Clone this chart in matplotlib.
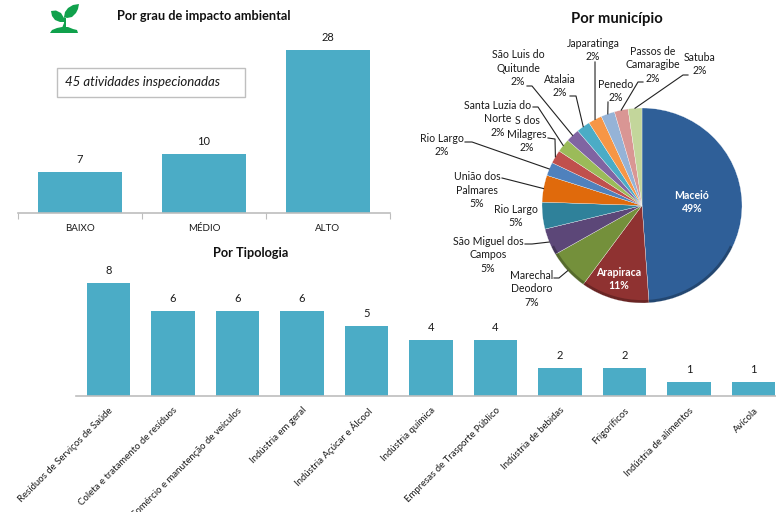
#!/usr/bin/env python3
import numpy as np
import matplotlib
matplotlib.use('Agg')
import matplotlib.pyplot as plt
from matplotlib.lines import Line2D
from matplotlib.patches import Polygon, Rectangle, Wedge

plt.rcParams['font.family'] = ['Lato', 'DejaVu Sans']

W, H = 776, 512

impacto_cat = ['BAIXO', 'MÉDIO', 'ALTO']
impacto_val = [7, 10, 28]

tipo_cat = ['Resíduos de Serviços de Saúde', 'Coleta e tratamento de resíduos',
            'Comércio e manutenção de veículos', 'Indústria em geral',
            'Indústria Açúcar e Álcool', 'Indústria química',
            'Empresas de Trasporte Público', 'Indústria de bebidas',
            'Frigoríficos', 'Indústria de alimentos', 'Avícola']
tipo_val = [8, 6, 6, 6, 5, 4, 4, 2, 2, 1, 1]

mun_cat = ['Maceió', 'Arapiraca', 'Marechal\nDeodoro', 'São Miguel dos\nCampos',
           'Rio Largo', 'União dos\nPalmares', 'Rio Largo', 'S dos\nMilagres',
           'Santa Luzia do\nNorte', 'São Luis do\nQuitunde', 'Atalaia',
           'Japaratinga', 'Penedo', 'Passos de\nCamaragibe', 'Satuba']
# as fatias sao as 45 atividades, os rotulos trazem o % como esta na figura
mun_val = [22, 5, 3, 2, 2, 2, 1, 1, 1, 1, 1, 1, 1, 1, 1]
mun_pct = [49, 11, 7, 5, 5, 5, 2, 2, 2, 2, 2, 2, 2, 2, 2]
mun_cor = ['#2f5f98', '#8f3231', '#74903b', '#5c4778', '#2f819a', '#e06a0c',
           '#4f81bd', '#c0504d', '#9bbb59', '#8064a2', '#4bacc6', '#f79646',
           '#95b3d7', '#d99694', '#c3d69b']

# centro de cada rotulo da pizza, em pixels
mun_pos = [(692, 202), (619, 279), (532, 289), (488, 255), (516, 216), (477, 190),
           (442, 145), (527, 134), (498, 119), (518, 68), (560, 86), (593, 50),
           (616, 91), (653, 65), (700, 64)]
# cotovelos das linhas de chamada, em pixels (None = sem linha)
mun_linha = [None, None,
             [(554, 278), (559, 278)],
             [(525, 244), (532, 244)],
             None,
             [(502, 178), (510, 180)],
             [(465, 142), (472, 142)],
             [(548, 138), (555, 139)],
             [(533, 107), (538, 107)],
             [(527, 86), (532, 86)],
             [(570, 96), (576, 96)],
             [(595, 62)],
             [(608, 102)],
             [(643, 82), (638, 82)],
             [(688, 75), (683, 75)]]

BAR = '#4bacc6'
AXIS = '#bdbdbd'
TXT = '#1a1a1a'


def axes_px(l, t, r, b):
    return fig.add_axes([l / W, 1 - b / H, (r - l) / W, (b - t) / H])


def px(x, y):
    return x / W, 1 - y / H


fig = plt.figure(figsize=(W / 100, H / 100), dpi=100)

# barras - impacto
ax1 = axes_px(18, 35, 390, 212.5)
x1 = np.arange(len(impacto_val))
b1 = ax1.bar(x1, impacto_val, width=0.68, color=BAR)
ax1.bar_label(b1, padding=5, fontsize=8, color=TXT)
ax1.set_xlim(-0.5, 2.5)
ax1.set_ylim(0, 177.5 / 5.82)
ax1.set_xticks(np.arange(-0.5, 3))
ax1.set_xticks(x1, impacto_cat, minor=True, fontsize=7, color=TXT)
ax1.tick_params(axis='x', which='major', length=4, color=AXIS, labelbottom=False)
ax1.tick_params(axis='x', which='minor', length=0, pad=8)
ax1.set_yticks([])
for s in ['top', 'left', 'right']:
    ax1.spines[s].set_visible(False)
ax1.spines['bottom'].set_color(AXIS)
ax1.spines['bottom'].set_linewidth(1.2)

# barras - tipologia
ax2 = axes_px(76.25, 270, 785.75, 396)
x2 = np.arange(len(tipo_val))
b2 = ax2.bar(x2, tipo_val, width=0.667, color=BAR)
ax2.bar_label(b2, padding=5, fontsize=8, color=TXT)
ax2.set_xlim(-0.5, 10.5)
ax2.set_ylim(0, 126 / 14.1)
ax2.set_xticks(x2, tipo_cat, rotation=45, ha='right', rotation_mode='anchor',
               fontsize=6.9, color=TXT)
ax2.tick_params(axis='x', length=0, pad=7)
ax2.set_yticks([])
for s in ['top', 'left', 'right']:
    ax2.spines[s].set_visible(False)
ax2.spines['bottom'].set_color(AXIS)
ax2.spines['bottom'].set_linewidth(1.2)

# pizza
CX, CY, RX, RY = 642, 205.5, 100, 97.5
ax3 = axes_px(CX - RX, CY - RY, CX + RX, CY + RY)
wedges, _ = ax3.pie(mun_val, colors=mun_cor, startangle=90, counterclock=False,
                    radius=1, wedgeprops={'edgecolor': '#ffffff', 'linewidth': 0.2})
ax3.add_patch(Wedge((0, 0), 1, 205, 335, width=0.03, facecolor='black',
                    alpha=0.25, edgecolor='none'))
ax3.set_xlim(-1, 1)
ax3.set_ylim(-1, 1)
ax3.set_aspect('auto')

for i, nome in enumerate(mun_cat):
    tx, ty = mun_pos[i]
    branco = i < 2
    fig.text(*px(tx, ty), f'{nome}\n{mun_pct[i]}%', ha='center', va='center',
             fontsize=7.6, color='white' if branco else TXT,
             fontweight='bold' if branco else 'normal', linespacing=1.3)
    if mun_linha[i] is None:
        continue
    w = wedges[i]
    ang = np.deg2rad((w.theta1 + w.theta2) / 2)
    borda = (CX + RX * np.cos(ang), CY - RY * np.sin(ang))
    pts = [px(*p) for p in mun_linha[i] + [borda]]
    fig.add_artist(Line2D([p[0] for p in pts], [p[1] for p in pts],
                          color='#222222', lw=0.8, transform=fig.transFigure))

# textos soltos
fig.text(*px(204, 16), 'Por grau de impacto ambiental', ha='center', va='center',
         fontsize=9.2, fontweight='bold', color='#111111')
fig.text(*px(251, 253), 'Por Tipologia', ha='center', va='center',
         fontsize=9.2, fontweight='bold', color='#111111')
fig.text(*px(617, 19), 'Por município', ha='center', va='center',
         fontsize=10.7, fontweight='bold', color='#111111')

l, t = px(57, 97)
fig.add_artist(Rectangle((l, t), 188 / W, 29 / H, transform=fig.transFigure,
                         facecolor='white', edgecolor='#bfbfbf', lw=1))
fig.text(*px(65, 81.5), '45 atividades inspecionadas', ha='left', va='center',
         fontsize=9.5, style='italic', color=TXT)

# icone da plantinha
VERDE = '#10a14c'
folha_esq = [(51, 11), (56, 10.5), (61, 13), (64, 18), (65, 22), (60, 22), (55, 20), (52, 16)]
folha_dir = [(79, 4), (73, 5), (68, 8), (65, 12), (64, 17), (67, 18), (72, 17), (76, 13), (78, 9)]
caule = [(64, 17), (66, 18), (66, 28), (62, 28), (64, 23)]
chao = [(50, 33), (52, 30), (57, 28), (62, 27), (68, 27), (73, 29), (77, 30), (78, 33)]
for forma in [folha_esq, folha_dir, caule, chao]:
    fig.add_artist(Polygon([px(*p) for p in forma], closed=True, facecolor=VERDE,
                           edgecolor='none', transform=fig.transFigure))

fig.savefig('out.png', dpi=100)
